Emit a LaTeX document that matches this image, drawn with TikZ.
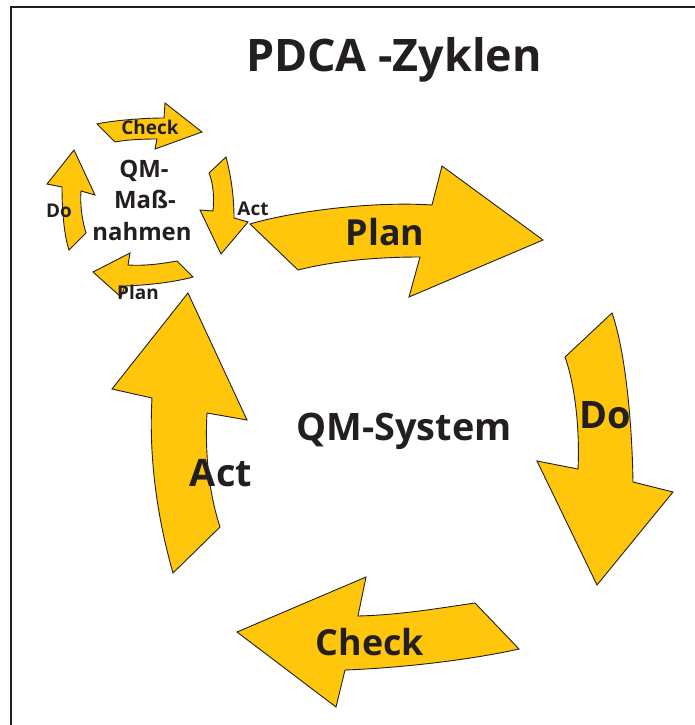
\documentclass[tikz,border=0pt]{standalone}
\usepackage{fontspec}
\setmainfont{Open Sans}
\definecolor{pdcayellow}{HTML}{FFC60B}
\definecolor{pdcaink}{HTML}{231F20}
\begin{document}
\begin{tikzpicture}[x=1bp,y=-1bp,
  cyclearrow/.style={fill=pdcayellow, draw=pdcaink, line width=0.9bp, line join=miter},
  lbl/.style={text=pdcaink, font=\bfseries, anchor=base, inner sep=0pt},
  biglbl/.style={lbl, font=\bfseries\fontsize{38}{40}\selectfont},
  smalllbl/.style={lbl, font=\bfseries\fontsize{19}{21}\selectfont}]
\useasboundingbox (0,0) rectangle (695,725);
% frame
\draw[line width=1.6bp, pdcaink] (11,725) -- (11,7) -- (695,7);

% title
\node[lbl, font=\bfseries\fontsize{45}{50}\selectfont] (title) at (394,72) {PDCA -Zyklen};

% large cycle
\path[cyclearrow] (250,224) .. controls (290,212) and (370,201) .. (432,205)
  -- (442,166) -- (543,240) -- (409,297) -- (420,257)
  .. controls (370,257) and (330,262) .. (298,270) -- cycle;
\path[cyclearrow] (612,313) -- (565,357)
  .. controls (575,385) and (580,430) .. (578,469)
  -- (537,461) -- (597,585) -- (673,492) -- (633,482)
  .. controls (632,420) and (625,350) .. (612,313) -- cycle;
\path[cyclearrow] (519,649) -- (475,603)
  .. controls (440,608) and (400,615) .. (358,616)
  -- (366,577) -- (237,632) -- (336,707) -- (345,670)
  .. controls (400,668) and (470,660) .. (519,649) -- cycle;
\path[cyclearrow] (173,573) -- (220,527)
  .. controls (208,490) and (205,450) .. (207,413)
  -- (247,420) -- (188,293) -- (112,389) -- (152,398)
  .. controls (149,450) and (155,510) .. (173,573) -- cycle;

% small cycle
\path[cyclearrow] (97,124) .. controls (110,121) and (140,118) .. (164,118)
  -- (165,103) -- (202,132) -- (155,149) -- (157,139)
  .. controls (140,139) and (125,140) .. (115,142) -- cycle;
\path[cyclearrow] (226,157) -- (209,173)
  .. controls (214,185) and (214,200) .. (213,211)
  -- (200,210) -- (221,254) -- (248,222) -- (234,218)
  .. controls (234,200) and (232,180) .. (226,157) -- cycle;
\path[cyclearrow] (193,277) -- (177,261)
  .. controls (160,264) and (145,266) .. (128,265)
  -- (130,253) -- (93,272) -- (121,297) -- (125,286)
  .. controls (150,285) and (175,282) .. (193,277) -- cycle;
\path[cyclearrow] (74,150) -- (47,184) -- (62,187)
  .. controls (62,210) and (64,235) .. (69,250)
  -- (86,233) .. controls (82,220) and (80,205) .. (81,191)
  -- (95,195) -- cycle;

% labels of the large cycle
\node[biglbl, font=\bfseries\fontsize{36}{40}\selectfont] (plan) at (385,245) {Plan};
\node[biglbl] (do) at (605,428) {Do};
\node[biglbl, font=\bfseries\fontsize{36}{40}\selectfont] (check) at (370,655) {Check};
\node[biglbl] (act) at (221,486) {Act};
\node[biglbl] (system) at (404,440) {QM-System};

% labels of the small cycle
\node[lbl, font=\bfseries\fontsize{24}{26}\selectfont] (qm) at (144,177) {QM-};
\node[lbl, font=\bfseries\fontsize{24}{26}\selectfont] (mass) at (145,208) {Maß-};
\node[lbl, font=\bfseries\fontsize{24}{26}\selectfont] (nahmen) at (142,240) {nahmen};
\node[smalllbl] (scheck) at (150,135) {Check};
\node[smalllbl] (sdo) at (59,217) {Do};
\node[smalllbl] (sact) at (253,215) {Act};
\node[smalllbl] (splan) at (138,299) {Plan};
\end{tikzpicture}
\end{document}
